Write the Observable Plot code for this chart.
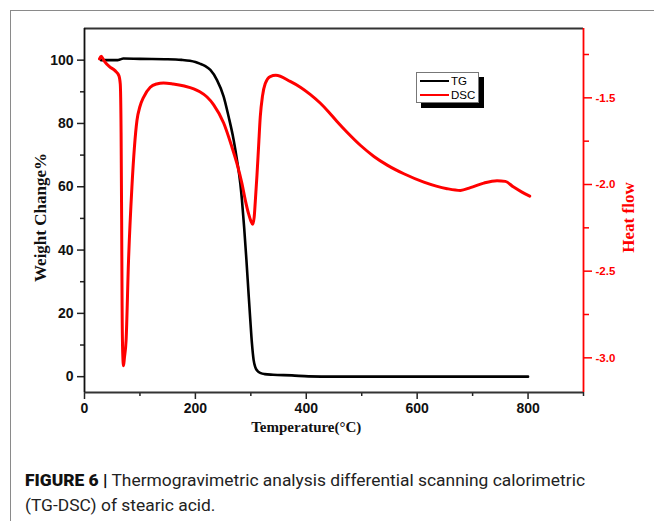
<!DOCTYPE html>
<html>
<head>
<meta charset="utf-8">
<script src="https://cdn.jsdelivr.net/npm/d3@7"></script>
<script src="https://cdn.jsdelivr.net/npm/@observablehq/plot@0.6"></script>
<style>
  html, body { margin:0; padding:0; background:#fff; width:654px; height:521px; overflow:hidden; }
  #frame { position:absolute; left:10px; top:10px; width:700px; height:600px; border-top:1.5px solid #8a8a8a; border-left:1.5px solid #8a8a8a; }
  #chart { position:absolute; left:0; top:0; }
  #legend { position:absolute; left:416px; top:72px; width:61px; height:29px; background:#fff; border:1px solid #777; box-shadow:5px 5px 0 #000; font-family:"Liberation Sans", Arial, sans-serif; font-size:11.5px; color:#000; }
  #legend .row { position:absolute; left:3px; height:14px; display:flex; align-items:center; }
  #legend .sw { width:29px; height:2.6px; margin-right:2px; }
  #caption { position:absolute; left:25px; top:468px; font-family:Roboto, "Liberation Sans", sans-serif; font-size:17px; line-height:25px; color:#222; white-space:nowrap; }
  #caption .ln { display:inline-block; transform-origin:left center; }
  #caption b { font-weight:900; color:#111; }
</style>
</head>
<body>
<div id="frame"></div>
<div id="chart"></div>
<div id="legend"></div>
<div id="caption"><span class="ln" id="cap1"><b>FIGURE 6 |</b> Thermogravimetric analysis differential scanning calorimetric</span><br><span class="ln" id="cap2">(TG-DSC) of stearic acid.</span></div>
<script>
// ---- data ----
const tgTemp   = [30, 50, 60, 64, 70, 100, 150, 175, 190, 200, 208, 218, 227, 239, 251, 260, 269, 275, 281, 284, 288, 292, 296, 299, 302, 305, 308, 312, 318, 325, 340, 374, 404, 450, 600, 800];
const tgWeight = [100, 100, 100, 100.2, 100.5, 100.4, 100.3, 100.1, 99.8, 99.4, 98.9, 98.1, 96.9, 93.7, 88.5, 82.1, 74.8, 68.5, 61.1, 55.8, 47, 37, 26, 18, 10.5, 5.3, 3, 1.8, 1.1, 0.8, 0.6, 0.4, 0.1, 0, 0, 0];

const dscTemp = [27, 30, 35, 45, 55, 62, 64.5, 66, 67, 67.8, 69, 70.4, 72, 75, 79.4, 85.5, 94.6, 100, 106.5, 118.6, 130, 142.6, 160, 180, 197, 208, 221, 233, 251, 266, 275, 284, 290, 296, 300, 303.3, 306, 308, 311, 314, 317, 321, 326, 335, 345, 371, 390, 407, 425, 440, 455, 474, 498, 522, 546, 576, 612, 654, 678, 696, 720, 744, 759, 774, 789, 803];
const dscHeat = [-1.275, -1.26, -1.285, -1.32, -1.343, -1.372, -1.42, -1.7, -2.2, -2.7, -2.98, -3.046, -3.0, -2.9, -2.44, -2.015, -1.631, -1.55, -1.497, -1.439, -1.42, -1.414, -1.42, -1.432, -1.448, -1.465, -1.495, -1.54, -1.645, -1.785, -1.88, -1.995, -2.09, -2.17, -2.21, -2.23, -2.19, -2.1, -1.95, -1.78, -1.61, -1.49, -1.418, -1.377, -1.37, -1.405, -1.44, -1.48, -1.53, -1.58, -1.635, -1.70, -1.775, -1.838, -1.888, -1.938, -1.986, -2.024, -2.034, -2.018, -1.992, -1.978, -1.982, -2.015, -2.044, -2.067];

const xTicks = [0, 200, 400, 600, 800];
const xMinorTicks = [100, 300, 500, 700, 900];
const yLeftTicks = [0, 20, 40, 60, 80, 100];
const yLeftMinorTicks = [10, 30, 50, 70, 90];
const yRightTicks = [-1.5, -2.0, -2.5, -3.0];
const yRightMinorTicks = [-1.25, -1.75, -2.25, -2.75];

const xDomain = [0, 900];
const yLeftDomain = [-5, 110];
const yRightDomain = [-3.2, -1.1];

const seriesNames = ["TG", "DSC"];
const seriesColors = ["#000000", "#ff0000"];

// ---- mapping right axis onto left scale ----
const toLeft = v => yLeftDomain[0] + (v - yRightDomain[0]) / (yRightDomain[1] - yRightDomain[0]) * (yLeftDomain[1] - yLeftDomain[0]);
const fromLeft = y => yRightDomain[0] + (y - yLeftDomain[0]) / (yLeftDomain[1] - yLeftDomain[0]) * (yRightDomain[1] - yRightDomain[0]);

const tgRows = tgTemp.map((t, i) => ({t, w: tgWeight[i]}));
const dscRows = dscTemp.map((t, i) => ({t, h: toLeft(dscHeat[i])}));

const sans = "'Liberation Sans', Arial, sans-serif";
const serif = "'Liberation Serif', 'Times New Roman', serif";

const chart = Plot.plot({
  width: 654,
  height: 440,
  marginLeft: 84,
  marginRight: 71,
  marginTop: 28,
  marginBottom: 48,
  x: {domain: xDomain},
  y: {domain: yLeftDomain},
  style: {background: "transparent", color: "#111", fontFamily: sans},
  marks: [
    Plot.axisX({ticks: xTicks, tickSize: 7, tickPadding: 4, strokeWidth: 1.5, stroke: "#222", fontSize: 14, fontWeight: "bold", fill: "#111", label: null}),
    Plot.axisX({ticks: xMinorTicks, tickSize: 4, strokeWidth: 1.5, stroke: "#222", text: null, label: null}),
    Plot.axisY({ticks: yLeftTicks, tickSize: 7, tickPadding: 4, strokeWidth: 1.5, stroke: "#222", fontSize: 14, fontWeight: "bold", fill: "#111", label: null}),
    Plot.axisY({ticks: yLeftMinorTicks, tickSize: 4, strokeWidth: 1.5, stroke: "#222", text: null, label: null}),
    Plot.axisY({anchor: "right", ticks: yRightTicks.map(toLeft), tickFormat: d => fromLeft(d).toFixed(1), tickSize: 8, tickPadding: 4, strokeWidth: 1.5, stroke: "red", fill: "red", fontSize: 11.5, fontWeight: "bold", label: null}),
    Plot.axisY({anchor: "right", ticks: yRightMinorTicks.map(toLeft), tickSize: 5, strokeWidth: 1.5, stroke: "red", text: null, label: null}),
    Plot.ruleY([yLeftDomain[0]], {stroke: "#333", strokeWidth: 1.8}),
    Plot.ruleY([yLeftDomain[1]], {stroke: "#333", strokeWidth: 1.8}),
    Plot.ruleX([xDomain[0]], {stroke: "#111", strokeWidth: 1.8}),
    Plot.ruleX([xDomain[1]], {stroke: "red", strokeWidth: 1.8}),
    Plot.line(tgRows, {x: "t", y: "w", stroke: seriesColors[0], strokeWidth: 2.6, curve: "monotone-x"}),
    Plot.line(dscRows, {x: "t", y: "h", stroke: seriesColors[1], strokeWidth: 3, curve: "monotone-x"}),
    Plot.text(["Weight Change%"], {frameAnchor: "left", rotate: -90, textAnchor: "middle", dx: -44, dy: 7, fontFamily: serif, fontWeight: "bold", fontSize: 17, fill: "#111"}),
    Plot.text(["Heat flow"], {frameAnchor: "right", rotate: -90, textAnchor: "middle", dx: 45, dy: 7, fontFamily: serif, fontWeight: "bold", fontSize: 17, fill: "red"}),
    Plot.text(["Temperature(°C)"], {x: [400], frameAnchor: "bottom", dy: 39, fontFamily: serif, fontWeight: "bold", fontSize: 15, fill: "#111"})
  ]
});
document.getElementById("chart").appendChild(chart);

// legend
const legend = document.getElementById("legend");
seriesNames.forEach((name, i) => {
  const row = document.createElement("div");
  row.className = "row";
  row.style.top = (1 + i * 14) + "px";
  const sw = document.createElement("span");
  sw.className = "sw";
  sw.style.background = seriesColors[i];
  const tx = document.createElement("span");
  tx.textContent = name;
  row.appendChild(sw);
  row.appendChild(tx);
  legend.appendChild(row);
});

// caption width fit
const cap1 = document.getElementById("cap1");
const cap2 = document.getElementById("cap2");
const w = cap1.getBoundingClientRect().width;
const k = 560 / w;
cap1.style.transform = `scaleX(${k})`;
cap2.style.transform = `scaleX(${k})`;
</script>
</body>
</html>
